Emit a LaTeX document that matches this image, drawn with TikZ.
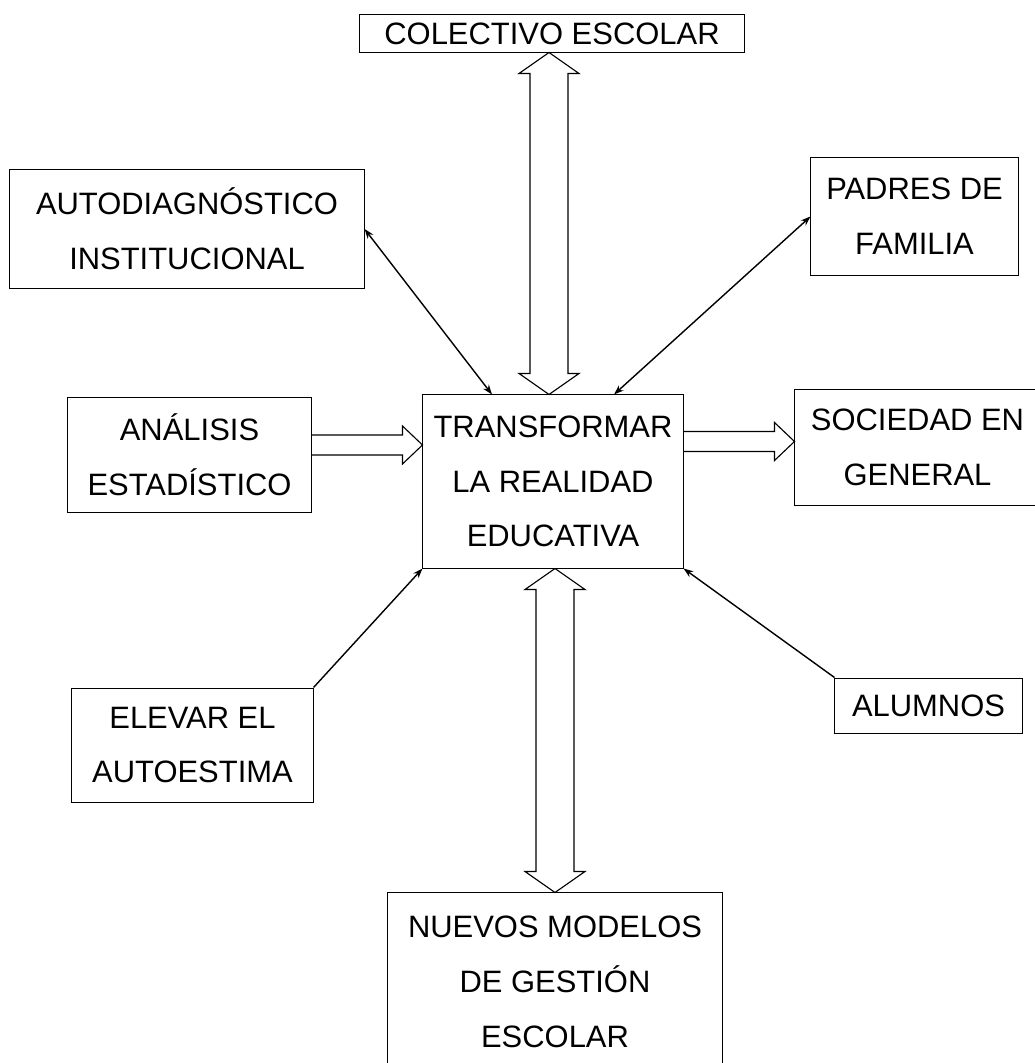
\documentclass[tikz,border=0pt]{standalone}
\usepackage{fontspec}
\setmainfont{Liberation Sans}
\usetikzlibrary{calc,arrows.meta}

\begin{document}
\begin{tikzpicture}[x=0.025cm,y=-0.025cm,
  >={Stealth[length=7pt,width=5pt]},
  caja/.style={draw,line width=0.7pt,inner sep=0pt,align=center,
    font=\fontsize{22}{39}\selectfont},
  flecha/.style={line width=1pt},
  flechahueca/.style={line width=0.8pt,to path={
    ($(\tikztostart)+(0,-10)$) -- ($(\tikztotarget)+(-20,-10)$)
    -- ($(\tikztotarget)+(-20,-19)$) -- (\tikztotarget)
    -- ($(\tikztotarget)+(-20,19)$) -- ($(\tikztotarget)+(-20,10)$)
    -- ($(\tikztostart)+(0,10)$)}},
  dobleflecha/.style={line width=0.8pt,to path={
    ($(\tikztostart)+(-19,21)$) -- ($(\tikztostart)+(-30,21)$)
    -- (\tikztostart) -- ($(\tikztostart)+(30,21)$)
    -- ($(\tikztostart)+(19,21)$) -- ($(\tikztotarget)+(19,-21)$)
    -- ($(\tikztotarget)+(30,-21)$) -- (\tikztotarget)
    -- ($(\tikztotarget)+(-30,-21)$) -- ($(\tikztotarget)+(-19,-21)$)
    -- cycle}}]
\useasboundingbox (0,0) rectangle (1034,1063);
\node [caja,minimum width=9.6cm,minimum height=0.925cm] (col) at (552,33.5) {COLECTIVO ESCOLAR};
\node [caja,minimum width=8.85cm,minimum height=2.95cm] (autod) at (187,229) {AUTODIAGNÓSTICO\\INSTITUCIONAL};
\node [caja,minimum width=5.175cm,minimum height=2.925cm] (padres) at (914.5,216.5) {PADRES DE\\FAMILIA};
\node [caja,minimum width=6.075cm,minimum height=2.85cm] (ana) at (189.5,455) {ANÁLISIS\\ESTADÍSTICO};
\node [caja,minimum width=6.5cm,minimum height=4.325cm] (trans) at (553,481.5) {TRANSFORMAR\\LA REALIDAD\\EDUCATIVA};
\node [caja,minimum width=6.125cm,minimum height=2.875cm] (soc) at (917.5,447.5) {SOCIEDAD EN\\GENERAL};
\node [caja,minimum width=6.025cm,minimum height=2.85cm] (elevar) at (192.5,745) {ELEVAR EL\\AUTOESTIMA};
\node [caja,minimum width=4.675cm,minimum height=1.375cm] (alumnos) at (928.5,705.5) {ALUMNOS};
\node [caja,minimum width=8.35cm,minimum height=4.425cm] (nuevos) at (555,981.5) {NUEVOS MODELOS\\DE GESTIÓN\\ESCOLAR};
\coordinate (c1) at ($(col.south -| trans.north)+(-4,0)$);
\coordinate (c2) at ($(trans.north)+(-4,0)$);
\coordinate (c3) at ($(trans.south)+(2,0)$);
\coordinate (c4) at ($(trans.south |- nuevos.north)+(2,0)$);
\coordinate (c5) at ($(ana.east)+(0,-10)$);
\coordinate (c6) at (c5 -| trans.west);
\coordinate (c7) at ($(soc.west)+(0,-6)$);
\coordinate (c8) at (c7 -| trans.east);
\draw [dobleflecha] (c1) to (c2);
\draw [dobleflecha] (c3) to (c4);
\draw [flechahueca] (c5) to (c6);
\draw [flechahueca] (c8) to (c7);
\draw [flecha,<->] (autod.east) -- ($(trans.north)+(-61,0)$);
\draw [flecha,<->] (padres.west) -- ($(trans.north)+(61,0)$);
\draw [flecha,->] (elevar.north east) -- (trans.south west);
\draw [flecha,->] (alumnos.north west) -- (trans.south east);
\end{tikzpicture}
\end{document}
